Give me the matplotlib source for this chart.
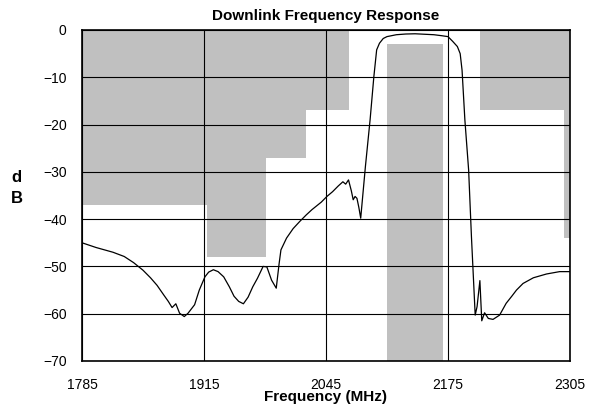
import numpy as np
import matplotlib
matplotlib.use("Agg")
import matplotlib.pyplot as plt

plt.rcParams['font.family'] = ['Liberation Sans', 'DejaVu Sans']

freq = [1785, 1800, 1818, 1830, 1840, 1850, 1858, 1865, 1872, 1877, 1881, 1885, 1889,
        1894, 1898, 1905, 1910, 1916, 1920, 1925, 1930, 1936, 1942, 1947, 1952,
        1957, 1962, 1967, 1972, 1978, 1982, 1987, 1992, 1995, 1997, 2003, 2010,
        2017, 2024, 2030, 2035, 2040, 2046, 2052, 2058, 2063, 2066, 2069, 2072,
        2074, 2076, 2078, 2080, 2082, 2087, 2092, 2096, 2099, 2102, 2106, 2110,
        2120, 2130, 2140, 2150, 2160, 2168, 2175, 2180, 2185, 2188, 2190, 2193,
        2197, 2200, 2204, 2206, 2209, 2211, 2214, 2218, 2223, 2230, 2237, 2243,
        2248, 2255, 2266, 2280, 2294, 2305]
db = [-45.0, -46.0, -47.0, -47.9, -49.2, -50.8, -52.4, -54.0, -56.0, -57.4, -58.7, -57.9, -59.9,
      -60.6, -59.9, -58.1, -55.0, -52.2, -51.2, -50.7, -51.1, -52.2, -54.3, -56.3, -57.4,
      -57.9, -56.5, -54.3, -52.5, -50.0, -50.1, -52.9, -54.6, -49.5, -46.5, -44.0, -42.0,
      -40.5, -39.1, -38.0, -37.2, -36.4, -35.2, -34.2, -33.0, -32.1, -32.6, -31.7, -34.0,
      -35.9, -35.2, -35.6, -37.5, -39.8, -28.9, -19.0, -9.9, -4.2, -2.8, -1.8, -1.4,
      -1.0, -0.85, -0.8, -0.9, -1.0, -1.2, -1.4, -2.4, -3.5, -5.0, -8.5, -19.0,
      -29.6, -43.7, -60.3, -58.5, -53.0, -61.5, -59.8, -61.0, -61.2, -60.3, -57.8, -56.3,
      -55.0, -53.6, -52.4, -51.6, -51.1, -51.1]

# upper limit masks (step edges and levels)
mask_left_f = [1785, 1918, 1981, 2024, 2070]
mask_left_db = [-37, -48, -27, -17]
mask_right_f = [2209, 2299, 2305]
mask_right_db = [-17, -44]
# in-band mask (lower limit)
band_f = [2110, 2170]
band_db = [-3, -70]

xticks = [1785, 1915, 2045, 2175, 2305]
yticks = [0, -10, -20, -30, -40, -50, -60, -70]

gray = '#c0c0c0'

fig = plt.figure(figsize=(5.89, 4.12), dpi=100)
ax = fig.add_axes([0.1392, 0.1238, 0.8285, 0.8034])

for edges, levels in [(mask_left_f, mask_left_db), (mask_right_f, mask_right_db)]:
    for i in range(len(levels)):
        ax.fill_between([edges[i], edges[i + 1]], 0, levels[i], color=gray,
                        linewidth=0, zorder=1)
ax.fill_between(band_f, band_db[0], band_db[1], color=gray, linewidth=0, zorder=1)

ax.plot(freq, db, color='black', linewidth=0.9, zorder=3)

ax.set_xlim(1785, 2305)
ax.set_ylim(-70, 0)
ax.set_xticks(xticks)
ax.set_yticks(yticks)
ax.grid(True, color='black', linewidth=0.8, zorder=2)
ax.set_axisbelow(False)
ax.tick_params(axis='x', length=0, labelsize=10, pad=12)
ax.tick_params(axis='y', length=0, labelsize=10, pad=11)
for s in ax.spines.values():
    s.set_linewidth(1.2)
    s.set_zorder(4)

ax.set_title('Downlink Frequency Response', fontsize=11, fontweight='bold', pad=7)
ax.set_xlabel('Frequency (MHz)', fontsize=11, fontweight='bold', labelpad=-1)
fig.text(0.028, 0.543, 'd\nB', fontsize=12, fontweight='bold', ha='center',
         va='center', linespacing=1.5)

fig.savefig('out.png', dpi=100)
